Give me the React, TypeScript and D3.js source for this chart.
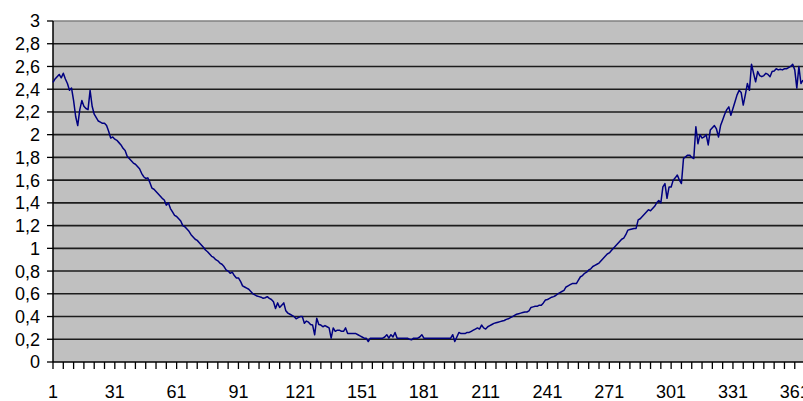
import { useEffect, useRef } from "react";
import * as d3 from "d3";

// daily values (day 1 .. 365)
const values: number[] = [
  2.46, 2.49, 2.51, 2.53, 2.5, 2.54, 2.49, 2.45, 2.39, 2.41,
  2.3, 2.16, 2.08, 2.22, 2.3, 2.25, 2.23, 2.22, 2.39, 2.25,
  2.18, 2.15, 2.12, 2.11, 2.1, 2.1, 2.08, 2.03, 1.97, 1.98,
  1.96, 1.95, 1.93, 1.91, 1.88, 1.86, 1.81, 1.79, 1.77, 1.75,
  1.74, 1.72, 1.7, 1.66, 1.63, 1.615, 1.62, 1.58, 1.53, 1.52,
  1.5, 1.48, 1.46, 1.44, 1.425, 1.38, 1.4, 1.35, 1.32, 1.29,
  1.28, 1.26, 1.24, 1.2, 1.19, 1.17, 1.15, 1.12, 1.1, 1.08,
  1.07, 1.05, 1.03, 1.01, 0.985, 0.97, 0.95, 0.93, 0.92, 0.9,
  0.89, 0.87, 0.86, 0.84, 0.81, 0.8, 0.78, 0.79, 0.76, 0.74,
  0.74, 0.71, 0.67, 0.66, 0.65, 0.64, 0.62, 0.6, 0.59, 0.58,
  0.575, 0.57, 0.56, 0.565, 0.575, 0.56, 0.55, 0.53, 0.47, 0.52,
  0.48, 0.5, 0.52, 0.45, 0.43, 0.42, 0.41, 0.4, 0.38, 0.39,
  0.4, 0.4, 0.34, 0.36, 0.35, 0.33, 0.325, 0.24, 0.385, 0.33,
  0.325, 0.31, 0.32, 0.31, 0.3, 0.21, 0.3, 0.27, 0.28, 0.28,
  0.27, 0.27, 0.3, 0.25, 0.25, 0.25, 0.25, 0.25, 0.24, 0.23,
  0.22, 0.21, 0.21, 0.18, 0.21, 0.21, 0.21, 0.21, 0.21, 0.21,
  0.21, 0.22, 0.24, 0.21, 0.24, 0.22, 0.26, 0.21, 0.21, 0.21,
  0.21, 0.21, 0.21, 0.2, 0.195, 0.21, 0.21, 0.21, 0.22, 0.24,
  0.21, 0.21, 0.21, 0.21, 0.21, 0.21, 0.21, 0.21, 0.21, 0.21,
  0.21, 0.21, 0.21, 0.21, 0.24, 0.18, 0.22, 0.26, 0.25, 0.25,
  0.25, 0.26, 0.26, 0.27, 0.28, 0.29, 0.3, 0.29, 0.325, 0.3,
  0.29, 0.31, 0.32, 0.33, 0.34, 0.345, 0.35, 0.355, 0.36, 0.365,
  0.375, 0.38, 0.39, 0.4, 0.41, 0.42, 0.425, 0.43, 0.435, 0.44,
  0.44, 0.45, 0.48, 0.485, 0.49, 0.49, 0.5, 0.5, 0.52, 0.545,
  0.55, 0.56, 0.57, 0.575, 0.585, 0.6, 0.61, 0.62, 0.63, 0.66,
  0.67, 0.68, 0.69, 0.69, 0.69, 0.72, 0.75, 0.76, 0.78, 0.79,
  0.81, 0.82, 0.84, 0.85, 0.86, 0.87, 0.89, 0.91, 0.93, 0.95,
  0.96, 0.98, 1.0, 1.02, 1.04, 1.06, 1.08, 1.09, 1.12, 1.16,
  1.165, 1.17, 1.175, 1.175, 1.25, 1.26, 1.28, 1.3, 1.32, 1.34,
  1.33, 1.35, 1.37, 1.4, 1.42, 1.4, 1.54, 1.57, 1.44, 1.54,
  1.54, 1.6, 1.62, 1.645, 1.6, 1.57, 1.79, 1.805, 1.82, 1.82,
  1.8, 1.79, 2.07, 1.92, 2.0, 1.97, 1.98, 2.0, 1.91, 2.04,
  2.06, 2.08, 2.05, 1.98, 2.08, 2.13, 2.18, 2.22, 2.245, 2.17,
  2.23, 2.29, 2.35, 2.39, 2.37, 2.26, 2.35, 2.45, 2.39, 2.62,
  2.54, 2.465, 2.555, 2.52, 2.51, 2.52, 2.54, 2.53, 2.51, 2.555,
  2.56, 2.58, 2.57, 2.575, 2.57, 2.58, 2.58, 2.59, 2.6, 2.62,
  2.57, 2.41, 2.6, 2.45, 2.48,
];

const yTicks: number[] = [0, 0.2, 0.4, 0.6, 0.8, 1, 1.2, 1.4, 1.6, 1.8, 2, 2.2, 2.4, 2.6, 2.8, 3];
const xLabels: number[] = [1, 31, 61, 91, 121, 151, 181, 211, 241, 271, 301, 331, 361];

export default function App() {
  const svgRef = useRef<SVGSVGElement | null>(null);

  useEffect(() => {
    if (!svgRef.current) return;
    const width = 803;
    const left = 53;
    const top = 21;
    const bottom = 362;

    const svg = d3.select(svgRef.current);
    svg.selectAll("*").remove();

    const days = values.map((_, i) => i + 1);

    const x = d3.scaleLinear().domain([1, days.length]).range([left, width]);
    const y = d3.scaleLinear().domain([0, 3]).range([bottom, top]);

    // plot area
    svg
      .append("rect")
      .attr("x", left)
      .attr("y", top)
      .attr("width", width - left)
      .attr("height", bottom - top)
      .attr("fill", "#c0c0c0");

    // gridlines
    svg
      .append("g")
      .selectAll("line")
      .data(yTicks.filter((t) => t > 0))
      .enter()
      .append("line")
      .attr("x1", left)
      .attr("x2", width)
      .attr("y1", (d) => y(d))
      .attr("y2", (d) => y(d))
      .attr("stroke", (d) => (d === 3 ? "#808080" : "#1c1c1c"))
      .attr("stroke-width", 1.6);

    const fmt = (v: number) => String(+v.toFixed(1)).replace(".", ",");

    // y axis
    const ya = svg.append("g");
    ya.append("line")
      .attr("x1", left)
      .attr("x2", left)
      .attr("y1", top)
      .attr("y2", bottom)
      .attr("stroke", "#000")
      .attr("stroke-width", 1.5);
    ya.selectAll("line.tick")
      .data(yTicks)
      .enter()
      .append("line")
      .attr("class", "tick")
      .attr("x1", left - 6)
      .attr("x2", left)
      .attr("y1", (d) => y(d))
      .attr("y2", (d) => y(d))
      .attr("stroke", "#000")
      .attr("stroke-width", 1.3);
    ya.selectAll("text")
      .data(yTicks)
      .enter()
      .append("text")
      .attr("x", 40)
      .attr("y", (d) => y(d))
      .attr("dy", "0.36em")
      .attr("text-anchor", "end")
      .attr("font-family", "'Liberation Sans', Arial, sans-serif")
      .attr("font-size", 18)
      .attr("fill", "#000")
      .text((d) => fmt(d));

    // x axis
    const xa = svg.append("g");
    xa.append("line")
      .attr("x1", left)
      .attr("x2", width)
      .attr("y1", bottom)
      .attr("y2", bottom)
      .attr("stroke", "#000")
      .attr("stroke-width", 1.5);
    xa.selectAll("line.tick")
      .data(days.filter((d) => (d - 1) % 5 === 0))
      .enter()
      .append("line")
      .attr("class", "tick")
      .attr("x1", (d) => x(d))
      .attr("x2", (d) => x(d))
      .attr("y1", bottom)
      .attr("y2", bottom + 7)
      .attr("stroke", "#000")
      .attr("stroke-width", 1.3);
    xa.selectAll("text")
      .data(xLabels)
      .enter()
      .append("text")
      .attr("x", (d) => x(d))
      .attr("y", 398)
      .attr("text-anchor", "middle")
      .attr("font-family", "'Liberation Sans', Arial, sans-serif")
      .attr("font-size", 18)
      .attr("fill", "#000")
      .text((d) => String(d));

    // data line
    const line = d3
      .line<number>()
      .x((_, i) => x(i + 1))
      .y((d) => y(d));

    svg
      .append("path")
      .datum(values)
      .attr("d", line)
      .attr("fill", "none")
      .attr("stroke", "#000080")
      .attr("stroke-width", 1.5)
      .attr("stroke-linejoin", "round");
  }, []);

  return (
    <svg
      ref={svgRef}
      width={803}
      height={401}
      style={{ position: "absolute", left: 0, top: 0, background: "#fff" }}
    ></svg>
  );
}
